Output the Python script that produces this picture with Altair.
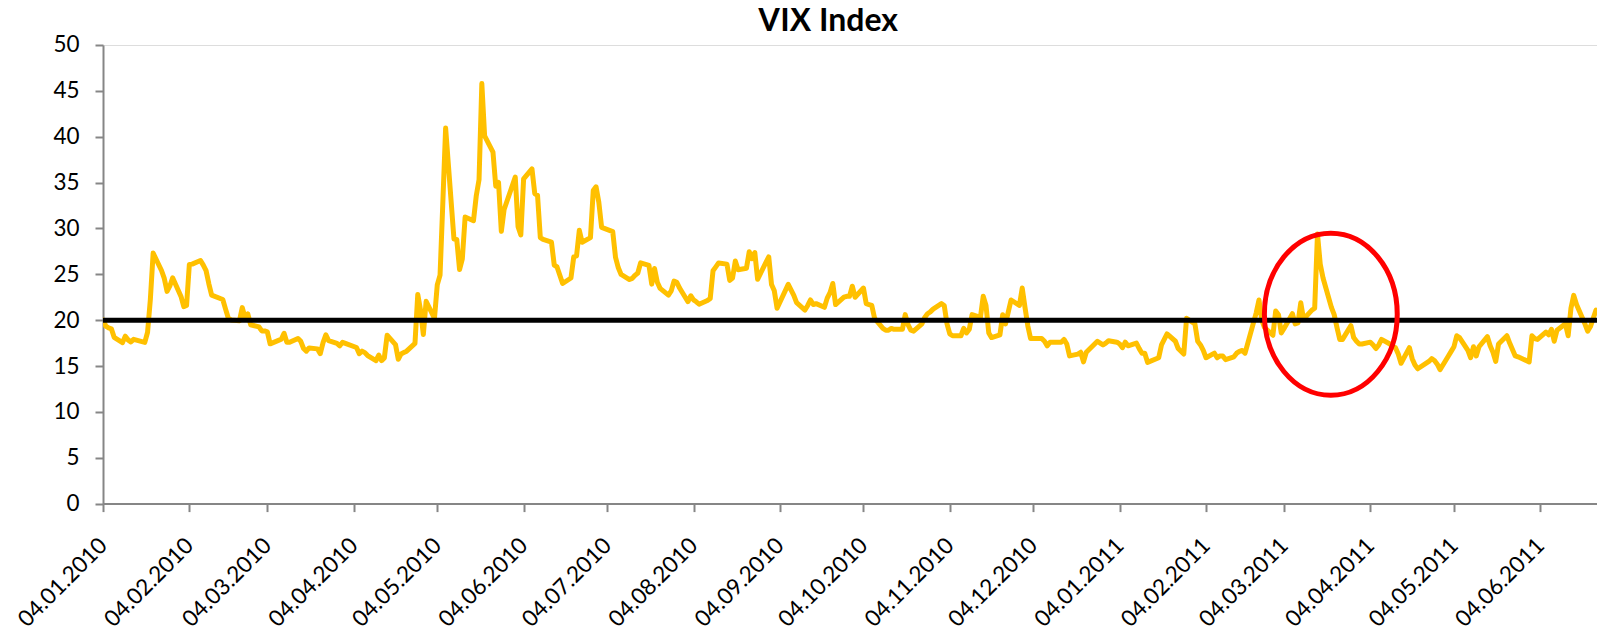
import altair as alt
import pandas as pd

# VIX daily closes, one list per month
jan10 = [20.04, 19.35, 19.16, 19.06, 18.13, 17.55, 18.25, 17.85, 17.63, 17.91, 17.58, 18.68, 22.27, 27.31, 25.41, 24.55, 23.14, 23.73, 24.62]
feb10 = [22.59, 21.48, 21.60, 26.08, 26.11, 26.51, 26.00, 25.40, 23.96, 22.73, 22.25, 21.2, 20.2, 20.02, 19.94, 21.37, 20.27, 20.67, 19.50]
mar10 = [19.26, 18.83, 18.83, 18.72, 17.42, 17.79, 17.92, 18.57, 17.58, 17.58, 18.00, 17.69, 16.91, 16.62, 16.97, 16.87, 16.35, 17.55, 18.40, 17.77, 17.47, 17.2, 17.59]
apr10 = [17.47, 17.02, 16.35, 16.62, 16.46, 16.14, 15.58, 16.20, 15.59, 15.89, 18.36, 17.34, 15.73, 16.32, 16.47, 16.62, 17.47, 22.81, 21.08, 18.44, 22.05]
may10 = [20.19, 23.84, 24.91, 32.80, 40.95, 28.84, 28.80, 25.52, 26.68, 31.24, 30.84, 33.55, 35.32, 45.79, 40.10, 38.32, 34.61, 35.01, 29.68, 32.07]
jun10 = [35.6, 30.2, 29.3, 35.4, 36.5, 33.8, 33.6, 29.0, 28.8, 28.5, 26.0, 25.8, 24.9, 24.0, 24.6, 26.9, 27.0, 29.8, 28.5, 29.0, 34.13, 34.54]
jul10 = [32.86, 30.12, 29.65, 26.84, 25.71, 24.98, 24.43, 24.56, 24.89, 25.14, 26.25, 25.97, 23.93, 25.64, 24.13, 23.47, 22.73, 23.19, 24.25, 24.13, 23.50]
aug10 = [22.01, 22.66, 22.21, 22.0, 21.74, 22.14, 22.37, 25.39, 25.81, 26.24, 26.11, 24.33, 24.59, 26.44, 25.49, 25.66, 27.46, 26.70, 27.37, 24.45, 26.3, 26.9]
sep10 = [23.9, 23.2, 21.3, 23.9, 23.3, 22.7, 21.9, 21.1, 21.6, 22.2, 21.7, 21.8, 21.4, 22.4, 23.0, 24.0, 21.7, 22.5, 22.6, 22.6, 23.7]
oct10 = [22.5, 23.5, 21.8, 21.7, 21.6, 20.2, 19.1, 18.9, 18.9, 19.1, 19.0, 19.0, 20.6, 19.5, 18.9, 18.8, 19.6, 20.3, 20.7, 20.9, 21.2]
nov10 = [21.8, 21.6, 19.6, 18.5, 18.3, 18.3, 19.1, 18.6, 19.0, 20.6, 20.3, 22.6, 21.6, 18.6, 18.1, 18.4, 20.6, 19.6, 22.2, 21.6, 23.5]
dec10 = [21.4, 19.4, 18.0, 18.0, 18.0, 17.7, 17.2, 17.6, 17.6, 17.6, 17.9, 17.4, 16.1, 16.3, 16.5, 15.45, 16.5, 17.7, 17.5, 17.3, 17.5, 17.75]
jan11 = [17.6, 17.4, 17.0, 17.6, 17.2, 17.5, 16.9, 16.4, 16.4, 15.4, 15.9, 17.3, 17.9, 18.5, 17.7, 16.9, 16.6, 16.3, 20.2, 19.6]
feb11 = [17.7, 17.3, 16.7, 15.9, 16.4, 15.9, 16.1, 16.1, 15.7, 16.0, 16.4, 16.6, 16.7, 16.4, 20.8, 22.2, 20.0, 19.2, 18.35]
mar11 = [21.0, 20.6, 18.6, 19.1, 20.7, 19.6, 19.7, 21.9, 20.1, 21.1, 21.3, 29.4, 26.1, 24.6, 21.4, 20.6, 19.2, 17.9, 17.9, 19.4, 18.1, 17.7, 17.4]
apr11 = [17.4, 17.6, 17.3, 16.9, 17.3, 17.9, 17.4, 17.1, 17.0, 16.3, 15.3, 17.0, 15.8, 15.1, 14.7, 15.5, 15.8, 15.6, 15.2, 14.6]
may11 = [16.1, 16.6, 17.1, 18.3, 18.1, 16.7, 15.9, 17.1, 16.1, 17.1, 18.2, 17.2, 16.5, 15.5, 17.4, 18.3, 17.5, 16.8, 16.1, 16.0, 15.45]
jun11 = [18.3, 18.0, 17.9, 18.7, 18.4, 19.0, 17.7, 18.9, 19.6, 18.3, 21.3, 22.7, 21.7, 19.6, 18.8, 19.3, 20.2, 21.1, 20.6, 19.2]

months = [jan10, feb10, mar10, apr10, may10, jun10, jul10, aug10, sep10, oct10, nov10, dec10,
          jan11, feb11, mar11, apr11, may11, jun11]

# US market holidays in the period (no trading)
holidays = ["2010-01-18", "2010-02-15", "2010-04-02", "2010-05-31", "2010-07-05", "2010-09-06",
            "2010-11-25", "2010-12-24", "2011-01-17", "2011-02-21", "2011-04-22", "2011-05-30"]

threshold = [20.0]

# annotation ellipse centre (date, value)
ellipse_date = ["2011-03-20T19:00:00"]
ellipse_value = [20.65]

# x-axis tick dates: the 4th of each month
tick_months = [(2010, m) for m in range(1, 13)] + [(2011, m) for m in range(1, 7)]

days = [d for d in pd.bdate_range("2010-01-04", "2011-06-28") if d.strftime("%Y-%m-%d") not in holidays]
vix = [v for m in months for v in m]
assert len(days) == len(vix), (len(days), len(vix))

df = pd.DataFrame({"date": [d.strftime("%Y-%m-%dT00:00:00") for d in days], "vix": vix})
df_thr = pd.DataFrame({"y": threshold})
df_ell = pd.DataFrame({"date": ellipse_date, "vix": ellipse_value})

GREY = "#868686"
FONT = "Lato"

x_scale = alt.Scale(domain=[alt.DateTime(year=2010, month=1, date=4),
                            alt.DateTime(year=2011, month=6, date=24, hours=8, minutes=24)])
y_scale = alt.Scale(domain=[0, 50], nice=False)

x_axis = alt.Axis(
    values=[alt.DateTime(year=y, month=m, date=4) for (y, m) in tick_months],
    format="%d.%m.%Y", labelAngle=-45, labelAlign="right", labelBaseline="middle",
    labelPadding=30, labelFont=FONT, labelFontSize=22.5, labelColor="black",
    tickSize=8, tickWidth=2, tickColor=GREY, domainColor=GREY, domainWidth=2,
    grid=False, title=None, labelOverlap=False, labelFlush=False,
)
y_axis = alt.Axis(
    values=list(range(0, 55, 5)), labelPadding=16, labelFont=FONT, labelFontSize=22.5,
    labelColor="black", tickSize=8, tickWidth=2, tickColor=GREY, domainColor=GREY,
    domainWidth=2, grid=False, title=None,
)

line = alt.Chart(df).mark_line(color="#FFC000", strokeWidth=5, strokeJoin="round",
                               strokeCap="round", clip=True).encode(
    x=alt.X("date:T", scale=x_scale, axis=x_axis),
    y=alt.Y("vix:Q", scale=y_scale, axis=y_axis),
)

rule = alt.Chart(df_thr).mark_rule(color="black", strokeWidth=5).encode(y="y:Q")

ellipse_path = "M -0.82 0 A 0.82 1 0 1 0 0.82 0 A 0.82 1 0 1 0 -0.82 0 Z"
ellipse = alt.Chart(df_ell).mark_point(shape=ellipse_path, size=26244, filled=False,
                                       stroke="#FF0000", strokeWidth=5, opacity=1).encode(
    x="date:T", y="vix:Q")

chart = alt.layer(line, rule, ellipse).properties(
    width=1494, height=458.6,
    title=alt.TitleParams("VIX Index", font=FONT, fontSize=32, fontWeight="bold",
                          color="black", anchor="middle", dx=-22, dy=13, offset=9),
    autosize=alt.AutoSizeParams(type="none"),
    padding={"left": 95, "top": 37, "right": 0, "bottom": 131},
).configure_view(stroke=None).configure(background="white")

chart.save("out.html", embed_options={"renderer": "svg", "actions": False})
